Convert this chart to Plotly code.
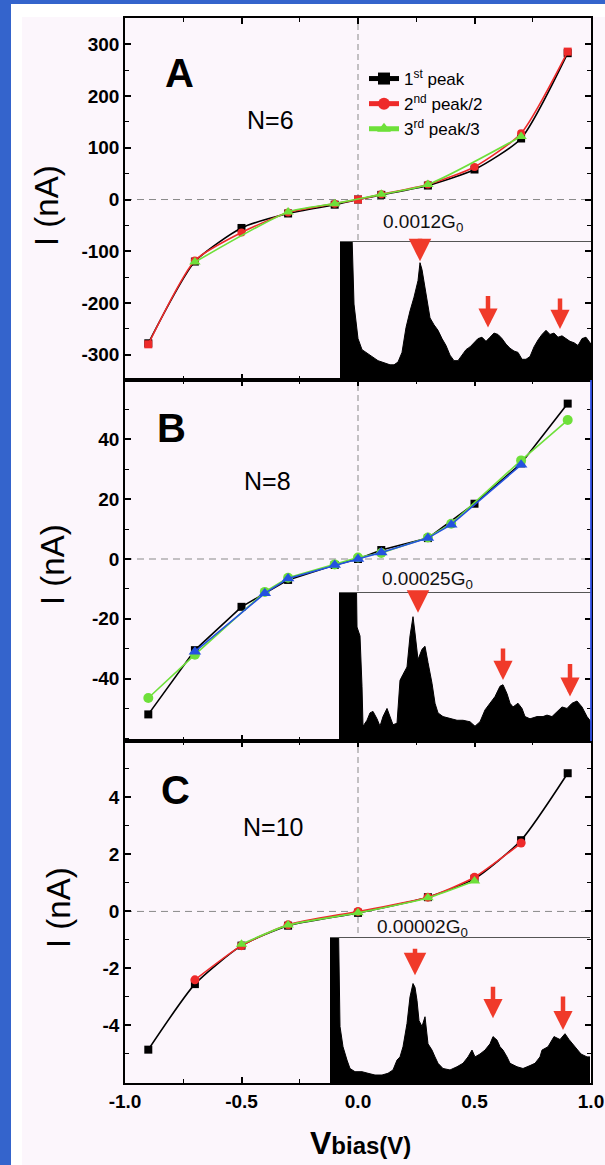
import plotly.graph_objects as go

W, H = 605, 1165

# ---------------- data ----------------
# Panel A (N=6)
V_A_black = [-0.9, -0.7, -0.5, -0.3, -0.1, 0.0, 0.1, 0.3, 0.5, 0.7, 0.9]
I_A_black = [-278, -120, -55, -27, -10, 0, 9, 27, 58, 118, 283]
V_A_red = [-0.9, -0.7, -0.5, -0.3, -0.1, 0.0, 0.1, 0.3, 0.5, 0.7, 0.9]
I_A_red = [-280, -118, -64, -25, -8, 0, 10, 29, 63, 128, 286]
V_A_green = [-0.7, -0.3, -0.1, 0.1, 0.3, 0.7]
I_A_green = [-121, -24, -8, 10, 29, 122]

# Panel B (N=8)
V_B_black = [-0.9, -0.7, -0.5, -0.3, -0.1, 0.0, 0.1, 0.3, 0.5, 0.7, 0.9]
I_B_black = [-52, -30.5, -16, -7, -2, 0, 3, 7, 18.5, 32, 52]
V_B_green = [-0.9, -0.7, -0.4, -0.3, -0.1, 0.0, 0.1, 0.3, 0.4, 0.7, 0.9]
I_B_green = [-46.5, -32, -11, -6.3, -1.8, 0.5, 2, 7.2, 11.8, 33, 46.5]
V_B_blue = [-0.7, -0.4, -0.3, -0.1, 0.0, 0.1, 0.3, 0.4, 0.7]
I_B_blue = [-31, -11.5, -6.5, -2, 0, 2.2, 7, 11.5, 31.5]

# Panel C (N=10)
V_C_black = [-0.9, -0.7, -0.5, -0.3, 0.0, 0.3, 0.5, 0.7, 0.9]
I_C_black = [-4.85, -2.55, -1.2, -0.5, -0.05, 0.5, 1.15, 2.5, 4.85]
V_C_red = [-0.7, -0.5, -0.3, 0.0, 0.3, 0.5, 0.7]
I_C_red = [-2.4, -1.2, -0.47, 0.0, 0.5, 1.2, 2.4]
V_C_green = [-0.5, -0.3, 0.0, 0.3, 0.5]
I_C_green = [-1.15, -0.48, -0.05, 0.48, 1.07]

# inset conductance histograms (bin index, normalised counts)
hist_A_bin = [0, 11, 14, 18, 22, 26, 30, 34, 38, 42, 46, 50, 54, 58, 62, 66, 70, 74, 78, 80,
              82, 86, 90, 94, 98, 102, 106, 110, 114, 118, 122, 126, 130, 134, 138, 142, 146,
              150, 154, 158, 162, 166, 170, 174, 178, 182, 186, 190, 194, 198, 202, 206, 210,
              214, 218, 222, 226, 230, 234, 238, 242, 246, 251]
hist_A_cnt = [1.3, 1.3, 0.55, 0.30, 0.22, 0.20, 0.18, 0.16, 0.14, 0.13, 0.12, 0.11, 0.11, 0.13,
              0.20, 0.38, 0.50, 0.60, 0.72, 0.85, 0.80, 0.62, 0.45, 0.40, 0.36, 0.30, 0.25, 0.18,
              0.14, 0.14, 0.18, 0.22, 0.24, 0.27, 0.30, 0.31, 0.28, 0.31, 0.34, 0.33, 0.30, 0.26,
              0.23, 0.21, 0.20, 0.15, 0.15, 0.17, 0.24, 0.29, 0.33, 0.36, 0.33, 0.34, 0.31, 0.32,
              0.30, 0.28, 0.27, 0.25, 0.30, 0.31, 0.26]
hist_B_bin = [0, 17, 18, 21, 23, 24, 28, 31, 34, 38, 41, 44, 48, 51, 54, 58, 61, 64, 68, 71, 74,
              76, 79, 83, 86, 89, 93, 96, 99, 104, 111, 118, 124, 131, 136, 141, 146, 151, 156,
              161, 164, 168, 171, 174, 179, 183, 186, 191, 198, 204, 208, 213, 218, 223, 228,
              233, 238, 243, 248, 252]
hist_B_cnt = [1.3, 1.3, 0.77, 0.71, 0.37, 0.10, 0.14, 0.19, 0.20, 0.15, 0.10, 0.165, 0.22, 0.165,
              0.11, 0.12, 0.41, 0.45, 0.50, 0.71, 0.84, 0.73, 0.55, 0.62, 0.64, 0.53, 0.39, 0.255,
              0.19, 0.165, 0.15, 0.14, 0.14, 0.13, 0.10, 0.13, 0.21, 0.255, 0.30, 0.37, 0.38, 0.32,
              0.255, 0.23, 0.255, 0.22, 0.165, 0.15, 0.165, 0.165, 0.175, 0.165, 0.20, 0.23, 0.22,
              0.255, 0.27, 0.23, 0.165, 0.13]
hist_C_bin = [0, 8, 10, 13, 17, 20, 25, 32, 38, 45, 52, 58, 63, 67, 70, 73, 77, 80, 83, 85, 87,
              89, 92, 95, 98, 102, 105, 108, 113, 120, 127, 133, 138, 142, 145, 150, 155, 160,
              163, 167, 170, 173, 177, 180, 187, 193, 200, 205, 210, 212, 218, 224, 230, 235,
              239, 245, 251, 257, 260]
hist_C_cnt = [1.3, 1.3, 0.39, 0.25, 0.158, 0.10, 0.078, 0.078, 0.067, 0.055, 0.055, 0.067, 0.09,
              0.158, 0.18, 0.25, 0.41, 0.594, 0.686, 0.66, 0.57, 0.43, 0.39, 0.457, 0.27, 0.227,
              0.18, 0.136, 0.10, 0.09, 0.112, 0.136, 0.18, 0.227, 0.18, 0.20, 0.227, 0.27, 0.32,
              0.296, 0.25, 0.227, 0.18, 0.136, 0.112, 0.10, 0.12, 0.136, 0.18, 0.227, 0.25, 0.32,
              0.30, 0.34, 0.30, 0.25, 0.20, 0.18, 0.18]

# peak arrows: bin position and arrow tip height
peak_A_bin = [80, 148, 220]
peak_A_tip = [0.86, 0.38, 0.37]
peak_B_bin = [79, 164, 231]
peak_B_tip = [0.867, 0.413, 0.30]
peak_C_bin = [85, 163, 233]
peak_C_tip = [0.743, 0.447, 0.365]

inset_labels = ["0.0012G<sub>0</sub>", "0.00025G<sub>0</sub>", "0.00002G<sub>0</sub>"]
panel_letters = ["A", "B", "C"]
panel_N = ["N=6", "N=8", "N=10"]
legend_names = ["1<sup>st</sup> peak", "2<sup>nd</sup> peak/2", "3<sup>rd</sup> peak/3"]
x_ticks = [-1.0, -0.5, 0.0, 0.5, 1.0]
y_ticks_A = [-300, -200, -100, 0, 100, 200, 300]
y_ticks_B = [-40, -20, 0, 20, 40]
y_ticks_C = [-4, -2, 0, 2, 4]

# ---------------- style ----------------
FONT = "Liberation Sans, Arial, sans-serif"
BLACK = "#000000"
RED = "#EE2A2A"
GREEN = "#6EE03A"
BLUE = "#2452E0"
ARROW = "#F03A2A"
PINK = "#FCF6FC"
BLUEBG = "#3464CC"


def px_x(p):
    return p / W


def px_y(p):
    return 1 - p / H


fig = go.Figure()


def add_series(x, y, color, symbol, size, xa, ya, shape, name):
    fig.add_trace(go.Scatter(
        x=x, y=y, mode="lines+markers", name=name, showlegend=False,
        line=dict(color=color, width=1.6, shape=shape, smoothing=0.6 if shape == "spline" else None),
        marker=dict(color=color, symbol=symbol, size=size),
        xaxis=xa, yaxis=ya, cliponaxis=False))


# Panel A
add_series(V_A_black, I_A_black, BLACK, "square", 8, "x", "y", "spline", "1st peak")
add_series(V_A_red, I_A_red, RED,
           ["square", "circle", "circle", "circle", "circle", "square", "circle", "circle",
            "circle", "circle", "square"], 8, "x", "y", "spline", "2nd peak/2")
add_series(V_A_green, I_A_green, GREEN, "triangle-up", 10, "x", "y", "spline", "3rd peak/3")
# Panel B
add_series(V_B_black, I_B_black, BLACK, "square", 8, "x2", "y2", "linear", "1st peak")
add_series(V_B_green, I_B_green, GREEN, "circle", 10, "x2", "y2", "linear", "2nd peak/2")
add_series(V_B_blue, I_B_blue, BLUE, "triangle-up", 11, "x2", "y2", "linear", "3rd peak/3")
# Panel C
add_series(V_C_black, I_C_black, BLACK, "square", 8, "x3", "y3", "spline", "1st peak")
add_series(V_C_red, I_C_red, RED, "circle", 9, "x3", "y3", "spline", "2nd peak/2")
add_series(V_C_green, I_C_green, GREEN, "triangle-up", 10, "x3", "y3", "spline", "3rd peak/3")

# legend proxies
for nm, col, sym in zip(legend_names, [BLACK, RED, GREEN], ["square", "circle", "triangle-up"]):
    fig.add_trace(go.Scatter(x=[None], y=[None], mode="lines+markers", name=nm,
                             line=dict(color=col, width=1.6),
                             marker=dict(color=col, symbol=sym, size=8),
                             xaxis="x", yaxis="y"))

# inset histograms
for hb, hc, xa, ya in [(hist_A_bin, hist_A_cnt, "x4", "y4"),
                       (hist_B_bin, hist_B_cnt, "x5", "y5"),
                       (hist_C_bin, hist_C_cnt, "x6", "y6")]:
    fig.add_trace(go.Scatter(x=hb, y=hc, mode="lines", fill="tozeroy",
                             line=dict(color="black", width=1), fillcolor="black",
                             showlegend=False, xaxis=xa, yaxis=ya))

# ---------------- layout ----------------
XD = [125 / W, 591 / W]
panels = {
    "A": dict(dom=[px_y(380), px_y(18)], rng=[-349, 351], ticks=y_ticks_A, minor=50),
    "B": dict(dom=[px_y(741), px_y(380)], rng=[-60.9, 59.9], ticks=y_ticks_B, minor=10),
    "C": dict(dom=[px_y(1083), px_y(741)], rng=[-6.02, 5.98], ticks=y_ticks_C, minor=1),
}
tickfont = dict(family=FONT, size=19, color="black")

layout = dict(
    width=W, height=H, margin=dict(l=0, r=0, t=0, b=0),
    template="none",
    paper_bgcolor=BLUEBG, plot_bgcolor="rgba(0,0,0,0)",
    showlegend=True,
    legend=dict(x=px_x(364), y=px_y(61), xanchor="left", yanchor="top",
                bgcolor="rgba(0,0,0,0)", font=dict(family=FONT, size=17, color="black"),
                tracegroupgap=0, itemsizing="constant"),
)

axis_names = [("xaxis", "yaxis", "y", "x", "A"), ("xaxis2", "yaxis2", "y2", "x2", "B"),
              ("xaxis3", "yaxis3", "y3", "x3", "C")]
for xa, ya, yref, xref, key in axis_names:
    p = panels[key]
    layout[xa] = dict(domain=XD, range=[-1, 1], anchor=yref, tickmode="array",
                      tickvals=x_ticks, ticktext=["<b>%.1f</b>" % v for v in x_ticks],
                      ticks="inside", ticklen=6, tickwidth=1.5, tickcolor="black",
                      minor=dict(tickmode="array", tickvals=[-0.75, -0.25, 0.25, 0.75],
                                 ticks="inside", ticklen=4, tickwidth=1.2, tickcolor="black"),
                      showline=True, linecolor="black", linewidth=1.5, mirror="ticks",
                      showgrid=False, zeroline=False, automargin=False,
                      showticklabels=(key == "C"), tickfont=tickfont, fixedrange=True)
    layout[ya] = dict(domain=p["dom"], range=p["rng"], anchor=xref, tickmode="array",
                      tickvals=p["ticks"], ticktext=["<b>%d</b>" % v for v in p["ticks"]],
                      ticks="inside", ticklen=6, tickwidth=1.5, tickcolor="black",
                      minor=dict(dtick=p["minor"], tick0=0, ticks="inside", ticklen=4,
                                 tickwidth=1.2, tickcolor="black"),
                      showline=True, linecolor="black", linewidth=1.5, mirror="ticks",
                      showgrid=False, zeroline=False, automargin=False,
                      tickfont=tickfont, fixedrange=True)

insets = [("xaxis4", "yaxis4", "x4", "y4", [340 / W, 591 / W], [px_y(380), px_y(242)], 251),
          ("xaxis5", "yaxis5", "x5", "y5", [339 / W, 591 / W], [px_y(741), px_y(593)], 252),
          ("xaxis6", "yaxis6", "x6", "y6", [330 / W, 590 / W], [px_y(1083), px_y(938)], 260)]
for xa, ya, xr, yr, xd, yd, xmax in insets:
    layout[xa] = dict(domain=xd, range=[0, xmax], anchor=yr, side="top", showline=True,
                      linecolor="#555555", linewidth=1, ticks="", showticklabels=False,
                      showgrid=False, zeroline=False, automargin=False, fixedrange=True)
    layout[ya] = dict(domain=yd, range=[0, 1], anchor=xr, visible=False, fixedrange=True)

fig.update_layout(**layout)

# ---------------- shapes ----------------
shapes = [
    dict(type="rect", xref="paper", yref="paper", x0=px_x(11), x1=1, y0=0, y1=px_y(4),
         fillcolor="white", line=dict(width=0), layer="below"),
    dict(type="rect", xref="paper", yref="paper", x0=px_x(22), x1=1, y0=0, y1=px_y(17),
         fillcolor=PINK, line=dict(width=0), layer="below"),
]
for xref, yref in [("x", "y"), ("x2", "y2"), ("x3", "y3")]:
    shapes.append(dict(type="line", xref=xref, yref=yref + " domain", x0=0, x1=0, y0=0, y1=1,
                       line=dict(color="#8a8a8a", width=1, dash="6px,4px"), layer="below"))
    shapes.append(dict(type="line", xref=xref + " domain", yref=yref, x0=0, x1=1, y0=0, y1=0,
                       line=dict(color="#8a8a8a", width=1, dash="7px,5px"), layer="below"))
for xr, yr in [("x4", "y4"), ("x5", "y5"), ("x6", "y6")]:
    shapes.append(dict(type="rect", xref=xr + " domain", yref=yr + " domain", x0=0, x1=1,
                       y0=0, y1=1, fillcolor=PINK, line=dict(width=0), layer="below"))
shapes.append(dict(type="line", xref="x2 domain", yref="y2 domain", x0=1, x1=1, y0=0, y1=1,
                   line=dict(color="#3050E8", width=1.8), layer="above"))
fig.update_layout(shapes=shapes)

# ---------------- annotations ----------------
ann = []
letter_pos = [(179, 73), (171, 428), (175, 790)]
n_pos = [(270, 120), (267, 481), (273, 827)]
ylab_pos = [(46, 205), (52, 565), (58, 908)]
for (lx, ly), (nx, ny), (tx, ty), letter, ntxt in zip(letter_pos, n_pos, ylab_pos,
                                                      panel_letters, panel_N):
    ann.append(dict(xref="paper", yref="paper", x=px_x(lx), y=px_y(ly), text="<b>%s</b>" % letter,
                    showarrow=False, font=dict(family=FONT, size=40, color="black"),
                    xanchor="center", yanchor="middle"))
    ann.append(dict(xref="paper", yref="paper", x=px_x(nx), y=px_y(ny), text=ntxt,
                    showarrow=False, font=dict(family=FONT, size=25, color="black"),
                    xanchor="center", yanchor="middle"))
    ann.append(dict(xref="paper", yref="paper", x=px_x(tx), y=px_y(ty), text="I (nA)",
                    textangle=-90, showarrow=False,
                    font=dict(family=FONT, size=33, color="black"),
                    xanchor="center", yanchor="middle"))

label_pos = [("x4", 83, 223), ("x5", 88, 580), ("x6", 92, 928)]
for (xr, bx, ly), lab in zip(label_pos, inset_labels):
    ann.append(dict(xref=xr, yref="paper", x=bx, y=px_y(ly), text=lab, showarrow=False,
                    font=dict(family=FONT, size=19, color="#111111"),
                    xanchor="center", yanchor="middle"))

arrow_len = [[24, 33, 32], [21, 33, 34], [28, 33, 35]]
for (xr, yr), pb, pt, lens in zip([("x4", "y4"), ("x5", "y5"), ("x6", "y6")],
                                  [peak_A_bin, peak_B_bin, peak_C_bin],
                                  [peak_A_tip, peak_B_tip, peak_C_tip], arrow_len):
    for k, (b, t, L) in enumerate(zip(pb, pt, lens)):
        ann.append(dict(xref=xr, yref=yr, x=b, y=t, ax=0, ay=-L, text="", showarrow=True,
                        arrowhead=2, arrowsize=1.0 if k == 0 else 0.85,
                        arrowwidth=4.5, arrowcolor=ARROW))

ann.append(dict(xref="paper", yref="paper", x=px_x(360), y=px_y(1143),
                text="<b>V</b><b><span style='font-size:24px'>bias(V)</span></b>",
                showarrow=False, font=dict(family=FONT, size=32, color="black"),
                xanchor="center", yanchor="middle"))
fig.update_layout(annotations=ann)

fig.write_html("out.html", config={"displayModeBar": False},
               post_script="document.body.style.margin='0';document.body.style.padding='0';"
                           "document.documentElement.style.overflow='hidden';")
